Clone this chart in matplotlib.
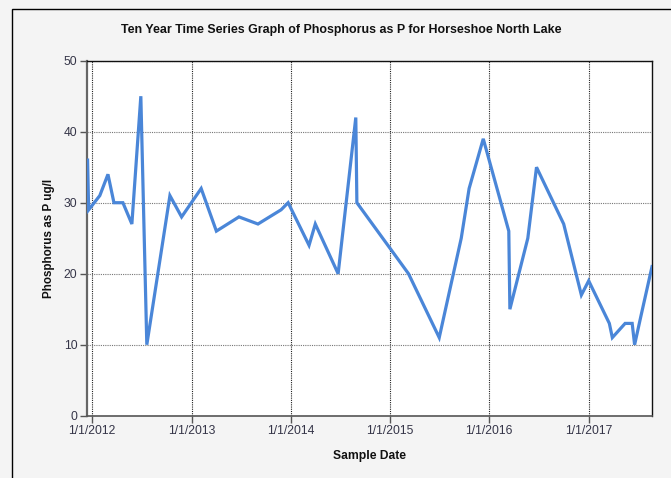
import matplotlib
matplotlib.use("Agg")
import matplotlib.pyplot as plt
import matplotlib.patches as patches
import pandas as pd

plt.rcParams['font.family'] = ['Liberation Sans', 'DejaVu Sans']

sample_dates = ['2011-12-15', '2011-12-19', '2012-01-29', '2012-02-28', '2012-03-21',
                '2012-04-23', '2012-05-26', '2012-06-28', '2012-07-20', '2012-10-13',
                '2012-11-25', '2013-02-05', '2013-04-02', '2013-06-24', '2013-09-02',
                '2013-11-26', '2013-12-22', '2014-03-09', '2014-04-01', '2014-06-24',
                '2014-08-28', '2014-09-01', '2015-03-10', '2015-07-01', '2015-09-20',
                '2015-10-19', '2015-12-10', '2016-03-13', '2016-03-17', '2016-05-22',
                '2016-06-23', '2016-10-01', '2016-12-05', '2017-01-01', '2017-03-18',
                '2017-03-29', '2017-05-15', '2017-06-10', '2017-06-19', '2017-07-12',
                '2017-08-22']
phosphorus = [36, 29, 31, 34, 30,
              30, 27, 45, 10, 31,
              28, 32, 26, 28, 27,
              29, 30, 24, 27, 20,
              42, 30, 20, 11, 25,
              32, 39, 26, 15, 25,
              35, 27, 17, 19, 13,
              11, 13, 13, 10, 14,
              21]
tick_dates = ['2012-01-01', '2013-01-01', '2014-01-01', '2015-01-01', '2016-01-01', '2017-01-01']
tick_labels = ['1/1/2012', '1/1/2013', '1/1/2014', '1/1/2015', '1/1/2016', '1/1/2017']
y_ticks = [0, 10, 20, 30, 40, 50]

dates = pd.to_datetime(sample_dates)

fig = plt.figure(figsize=(6.71, 4.78), dpi=100, facecolor='#f4f4f4')
ax = fig.add_axes([0.1297, 0.1303, 0.842, 0.7427])
ax.set_facecolor('white')

ax.plot(dates, phosphorus, color='#4a86d8', lw=2.3, solid_joinstyle='miter', zorder=3)

ax.set_xlim(pd.Timestamp('2011-12-13'), pd.Timestamp('2017-08-22'))
ax.set_ylim(0, 50)
ax.set_xticks(pd.to_datetime(tick_dates))
ax.set_xticklabels(tick_labels)
ax.set_yticks(y_ticks)

ax.grid(True, axis='x', color='#222222', linestyle=(0, (1, 1)), lw=0.8)
ax.grid(True, axis='y', color='#777777', linestyle=(0, (1, 1)), lw=0.8)
ax.set_axisbelow(True)

ax.tick_params(axis='both', direction='out', length=5, width=1, color='#555555',
               labelsize=8.7, labelcolor='#353548', pad=2)

for side in ['top', 'right']:
    ax.spines[side].set_color('#111111')
    ax.spines[side].set_linewidth(1)
ax.spines['left'].set_color('#666666')
ax.spines['left'].set_linewidth(1.6)
ax.spines['bottom'].set_color('#555555')
ax.spines['bottom'].set_linewidth(1.2)

fig.text(341.5 / 671, 1 - 30 / 478, 'Ten Year Time Series Graph of Phosphorus as P for Horseshoe North Lake',
         fontsize=8.9, fontweight='bold', ha='center', va='center', color='#111111')
ax.set_xlabel('Sample Date', fontsize=8.7, fontweight='bold', labelpad=9, color='#111111')
ax.set_ylabel('Phosphorus as P ug/l', fontsize=8.4, fontweight='bold', labelpad=6, color='#111111')

# outer frame of the chart image (cut off at right and bottom)
frame = patches.Rectangle((12 / 671, -0.1), 1.2, 1.1 - 9 / 478, transform=fig.transFigure,
                          fill=False, edgecolor='black', lw=1, clip_on=False)
fig.patches.append(frame)

fig.savefig('out.png', dpi=100, facecolor=fig.get_facecolor())
